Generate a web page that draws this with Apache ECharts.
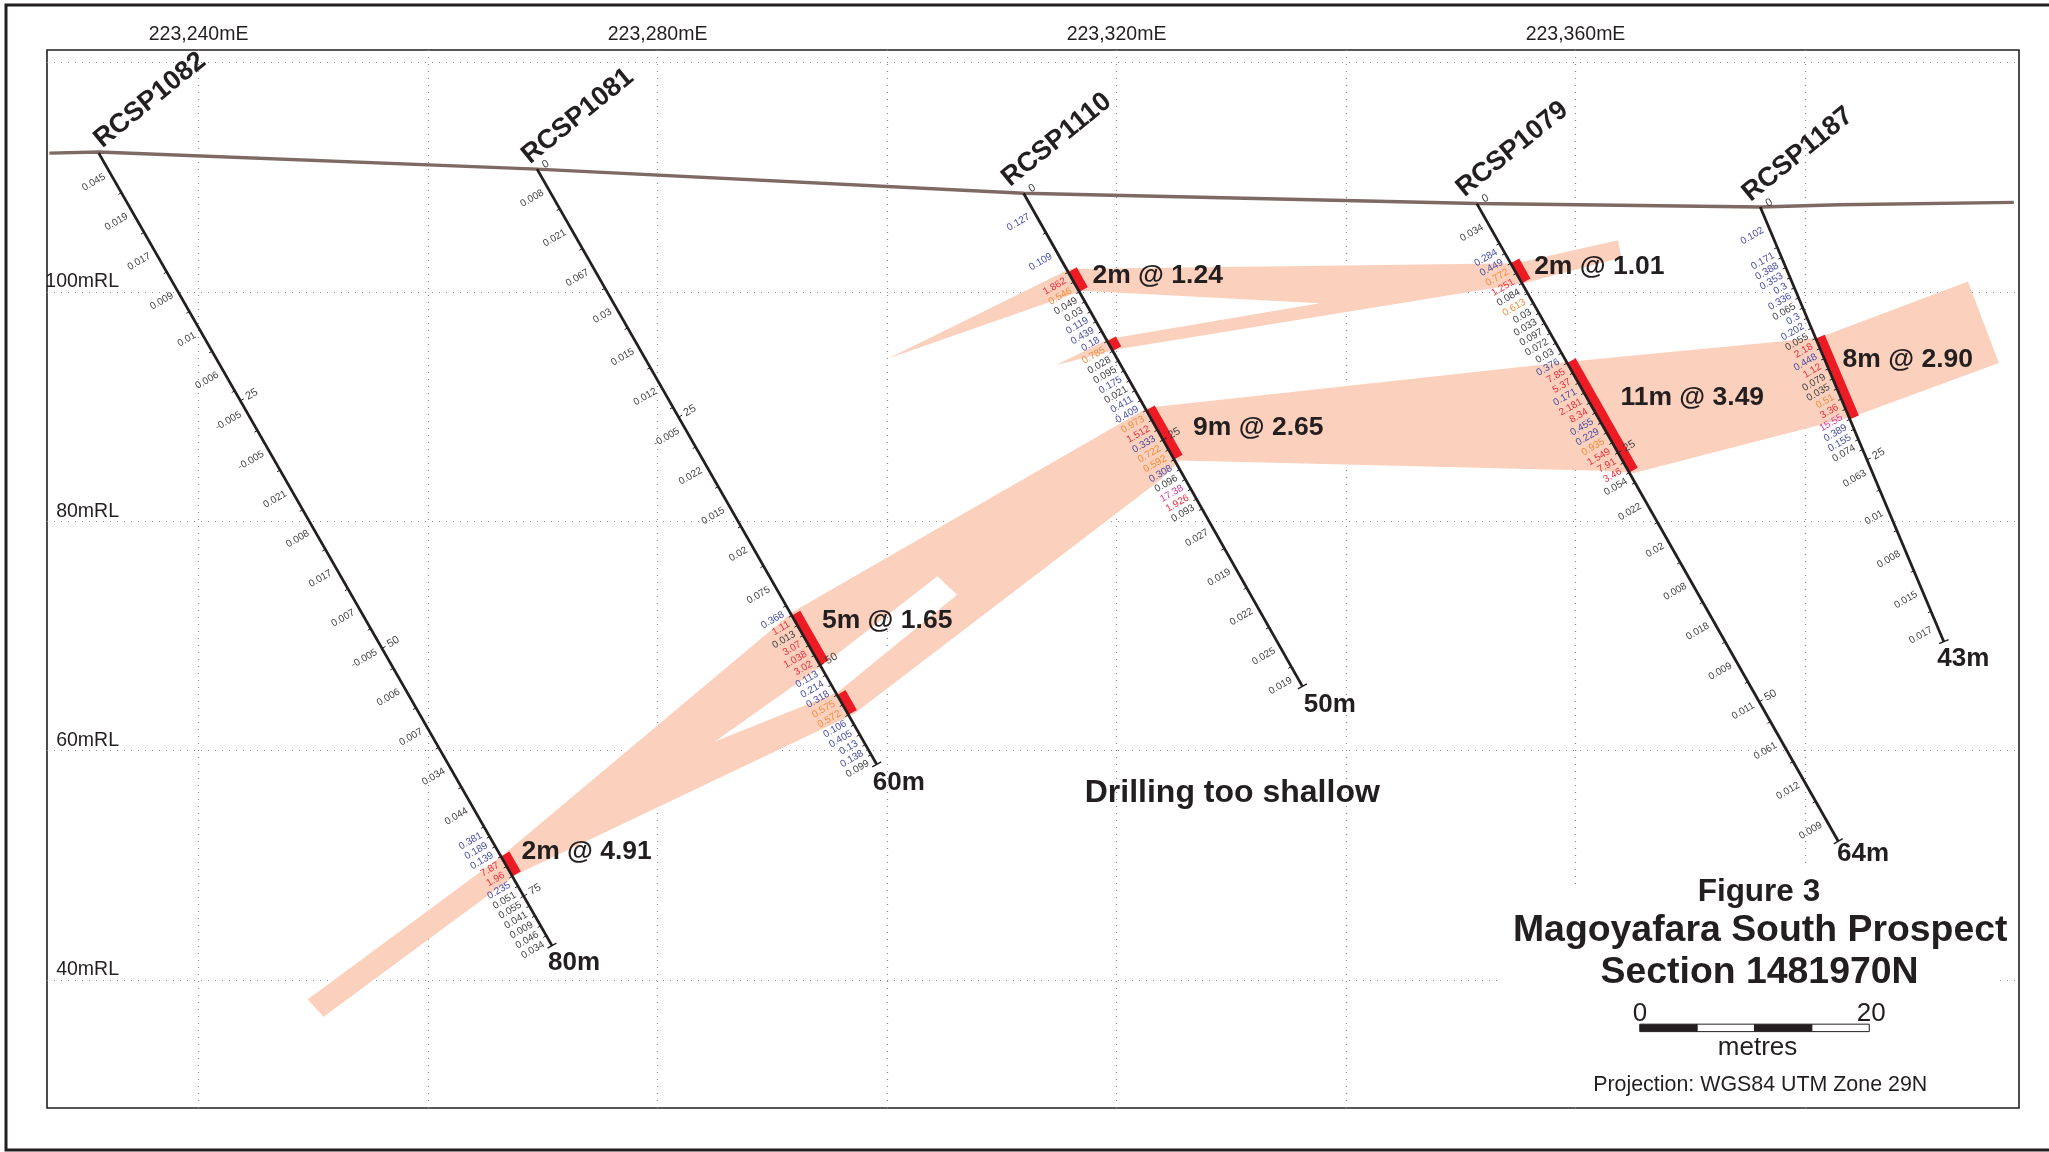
<!DOCTYPE html>
<html>
<head>
<meta charset="utf-8">
<style>html,body{margin:0;padding:0;background:#fff}#c{width:2049px;height:1152px}</style>
<script src="https://cdn.jsdelivr.net/npm/echarts@6/dist/echarts.min.js"></script>
</head>
<body>
<div id="c"></div>
<script>
// ---------- data (world coordinates: easting, RL; depths in metres) ----------
const GRID_E = [223240,223260,223280,223300,223320,223340,223360,223380];
const GRID_RL = [40,60,80,100,120];
const LABEL_E = [223240,223280,223320,223360];
const LABEL_RL = [40,60,80,100];

const HOLE_NAMES = ['RCSP1082','RCSP1081','RCSP1110','RCSP1079','RCSP1187'];
const HOLE_DEPTHS = [80,60,50,64,43];
const COLLAR_E = [223231.3,223269.5,223311.9,223351.4,223376.1];
const COLLAR_RL = [112.1,110.7,108.6,107.7,107.4];
const TOE_E = [223270.8,223299.1,223336.2,223382.9,223392.1];
const TOE_RL = [43.0,58.8,65.6,52.1,69.5];

const SURFACE_E = [223227.0,223231.3,223269.5,223311.9,223351.4,223376.1,223383.0,223398.2];
const SURFACE_RL = [112.1,112.2,110.7,108.6,107.7,107.4,107.6,107.8];

const BREAKS_1082 = [0,4,8,12,16,20,24,28,32,36,40,44,48,52,56,60,64,68,69,70,71,72,73,74,75,76,77,78,79,80];
const ASSAY_1082 = [0.045,0.019,0.017,0.009,0.01,0.006,-0.005,-0.005,0.021,0.008,0.017,0.007,-0.005,0.006,0.007,0.034,0.044,0.381,0.189,0.139,7.87,1.96,0.235,0.051,0.055,0.041,0.009,0.046,0.034];
const BREAKS_1081 = [0,4,8,12,16,20,24,28,32,36,40,44,45,46,47,48,49,50,51,52,53,54,55,56,57,58,59,60];
const ASSAY_1081 = [0.008,0.021,0.067,0.03,0.015,0.012,-0.005,0.022,0.015,0.02,0.075,0.368,1.11,0.013,3.07,1.038,3.02,0.113,0.214,0.318,0.575,0.572,0.106,0.405,0.13,0.138,0.099];
const BREAKS_1110 = [0,4,8,9,10,11,12,13,14,15,16,17,18,19,20,21,22,23,24,25,26,27,28,29,30,31,32,36,40,44,48,50];
const ASSAY_1110 = [0.127,0.109,1.862,0.546,0.049,0.03,0.119,0.439,0.18,0.785,0.028,0.095,0.175,0.021,0.411,0.409,0.973,1.512,0.333,0.722,0.592,0.308,0.096,17.38,1.926,0.093,0.027,0.019,0.022,0.025,0.019];
const BREAKS_1079 = [0,4,5,6,7,8,9,10,11,12,13,14,15,16,17,18,19,20,21,22,23,24,25,26,27,28,32,36,40,44,48,52,56,60,64];
const ASSAY_1079 = [0.034,0.284,0.449,0.772,1.251,0.084,0.613,0.03,0.033,0.097,0.072,0.03,0.376,7.85,5.37,0.171,2.181,8.34,0.455,0.229,0.935,1.549,7.91,3.46,0.054,0.022,0.02,0.008,0.018,0.009,0.011,0.061,0.012,0.009];
const BREAKS_1187 = [0,4,5,6,7,8,9,10,11,12,13,14,15,16,17,18,19,20,21,22,23,24,28,32,36,40,43];
const ASSAY_1187 = [0.102,0.171,0.388,0.353,0.3,0.336,0.065,0.3,0.202,0.055,2.18,0.448,1.12,0.079,0.035,0.51,3.36,15.55,0.389,0.155,0.074,0.063,0.01,0.008,0.015,0.017];

const DEPTH_MARKS_1082 = [25,50,75];
const DEPTH_MARKS_1081 = [0,25,50];
const DEPTH_MARKS_1110 = [0,25];
const DEPTH_MARKS_1079 = [0,25,50];
const DEPTH_MARKS_1187 = [0,25];

// mineralised intercepts drawn on the holes: hole index, from, to
const RED_HOLE = [0,1,1,2,2,2,3,3,4];
const RED_FROM = [71,45,53,8,15,22,6,16,13];
const RED_TO   = [73,50,55,10,16,27,8,27,21];

// mineralised envelopes, [easting, RL]
const ZONE_LOWER = [[223249.5,38.3],[223266.4,50.8],[223291.8,72.1],[223322.7,89.9],[223325.5,85.3],[223323.8,83.6],[223297.1,63.2],
  [223295.7,65.1],[223306.1,73.6],[223304.4,75.2],[223294.6,67.6],[223285.0,60.8],[223295.7,65.1],[223297.1,63.2],
  [223267.7,49.2],[223250.9,36.8]];
const ZONE_MAIN = [[223322.7,89.9],[223359.4,93.9],[223381.2,96.0],[223394.2,100.9],[223396.9,93.8],[223384.4,89.2],[223365.1,84.2],[223362.2,84.4],[223325.5,85.3]];
const ZONE_UPPER = [[223300.1,94.2],[223315.9,102.0],[223354.8,102.5],[223363.7,104.5],[223364.0,103.0],[223355.7,100.8],[223320.1,95.0],[223314.7,93.6],[223319.3,95.9],[223337.7,99.0],[223317.0,100.1]];

const INTERCEPT_TEXT = ['2m @ 4.91','5m @ 1.65','2m @ 1.24','9m @ 2.65','2m @ 1.01','11m @ 3.49','8m @ 2.90'];

// ---------- layout and style ----------
const S = 2049/1568;
const INTERCEPT_POS = [[399,652],[629,475],[836,211],[913,327],[1174,204],[1240,304],[1410,275]];
const NAME_OFFSET = [[-1,-8],[-9,-8],[-14,-9],[-13,-9],[-11,-8]];
const END_OFFSET = [[-3,13.5],[-3,14],[1,14],[-1,10],[-5,13]];
const E_MIN = 223226.79, E_MAX = 223398.65, RL_MIN = 28.84, RL_MAX = 121.09;
const INK = '#231f20', PEACH = '#fbd1bd', RED = '#ed1c24';
const FONT = '"Liberation Sans", Arial, sans-serif';

const BREAKS = [BREAKS_1082,BREAKS_1081,BREAKS_1110,BREAKS_1079,BREAKS_1187];
const ASSAYS = [ASSAY_1082,ASSAY_1081,ASSAY_1110,ASSAY_1079,ASSAY_1187];
const MARKS = [DEPTH_MARKS_1082,DEPTH_MARKS_1081,DEPTH_MARKS_1110,DEPTH_MARKS_1079,DEPTH_MARKS_1187];
const ZONES = [ZONE_LOWER,ZONE_MAIN,ZONE_UPPER];

function gradeColor(v){
  if(v>=10) return '#d9389f';
  if(v>=1) return '#ee2f3e';
  if(v>=0.5) return '#f58b3d';
  if(v>=0.1) return '#474ca4';
  return '#3f3f41';
}
function frame(i){
  const dx=TOE_E[i]-COLLAR_E[i], dy=TOE_RL[i]-COLLAR_RL[i], len=Math.hypot(dx,dy), d=HOLE_DEPTHS[i];
  const ux=dx/len, uy=dy/len;
  return {
    at:(depth,side)=>[COLLAR_E[i]+dx*depth/d+(-uy)*(side||0), COLLAR_RL[i]+dy*depth/d+ux*(side||0)]
  };
}
const ROT = Math.PI/6;
function hole(params,api){
  const i=params.dataIndex, f=frame(i), ch=[];
  const br=BREAKS[i], as=ASSAYS[i];
  br.forEach(d=>{
    if(d===0||d===HOLE_DEPTHS[i]) return;
    const a=api.coord(f.at(d,0)), b=api.coord(f.at(d,-0.3));
    ch.push({type:'line',shape:{x1:a[0],y1:a[1],x2:b[0],y2:b[1]},style:{stroke:INK,lineWidth:1}});
  });
  as.forEach((v,k)=>{
    const p=api.coord(f.at((br[k]+br[k+1])/2,-0.55));
    ch.push({type:'text',x:p[0],y:p[1],rotation:ROT,style:{text:String(v),fill:gradeColor(v),font:'10px '+FONT,align:'right',verticalAlign:'middle'}});
  });
  MARKS[i].forEach(d=>{
    if(d>0){
      const a=api.coord(f.at(d,0)), b=api.coord(f.at(d,0.35));
      ch.push({type:'line',shape:{x1:a[0],y1:a[1],x2:b[0],y2:b[1]},style:{stroke:INK,lineWidth:1}});
    }
    const p=api.coord(f.at(d,0.6));
    ch.push({type:'text',x:p[0],y:p[1],rotation:ROT,style:{text:String(d),fill:'#3f3f41',font:'11px '+FONT,align:'left',verticalAlign:'middle'}});
  });
  const t1=api.coord(f.at(HOLE_DEPTHS[i],-0.45)), t2=api.coord(f.at(HOLE_DEPTHS[i],0.45));
  ch.push({type:'line',shape:{x1:t1[0],y1:t1[1],x2:t2[0],y2:t2[1]},style:{stroke:INK,lineWidth:1.4}});
  const e=api.coord(f.at(HOLE_DEPTHS[i],0)), q=END_OFFSET[i];
  ch.push({type:'text',x:e[0]+q[0]*S,y:e[1]+q[1]*S,style:{text:HOLE_DEPTHS[i]+'m',fill:INK,font:'bold 26px '+FONT,align:'left',verticalAlign:'middle'}});
  const c=api.coord(f.at(0,0)), o=NAME_OFFSET[i];
  ch.push({type:'text',x:c[0]+o[0]*S,y:c[1]+o[1]*S,rotation:39*Math.PI/180,style:{text:HOLE_NAMES[i],fill:INK,font:'bold 27px '+FONT,align:'left',verticalAlign:'middle'}});
  return {type:'group',children:ch};
}
function zone(params,api){
  const pts=ZONES[params.dataIndex].map(p=>api.coord(p));
  return {type:'polygon',shape:{points:pts},style:{fill:PEACH}};
}
function redBox(params,api){
  const k=params.dataIndex, f=frame(RED_HOLE[k]);
  const pts=[f.at(RED_FROM[k],0),f.at(RED_FROM[k],0.85),f.at(RED_TO[k],0.85),f.at(RED_TO[k],0)].map(p=>api.coord(p));
  return {type:'polygon',shape:{points:pts},style:{fill:RED}};
}
function scaleBar(params,api){
  const x0=223365.6, y0=35.5, y1=36.15;
  const seg=[0,5,10,15,20], ch=[];
  for(let i=0;i<4;i++){
    const a=api.coord([x0+seg[i],y1]), b=api.coord([x0+seg[i+1],y0]);
    ch.push({type:'rect',shape:{x:a[0],y:a[1],width:b[0]-a[0],height:b[1]-a[1]},style:{fill:i%2?'#fff':INK,stroke:INK,lineWidth:1}});
  }
  return {type:'group',children:ch};
}
function txt(t,x,y,font,align){
  return {type:'text',x:x*S,y:y*S,z:100,silent:true,style:{text:t,fill:INK,font:font,align:align||'center',verticalAlign:'middle'}};
}

const chart = echarts.init(document.getElementById('c'),null,{renderer:'canvas',width:2049,height:1152});
const dotted = {show:true,lineStyle:{color:'#8a8a8a',width:1.2,type:[1,6]}};
chart.setOption({
  animation:false,
  backgroundColor:'#fff',
  grid:{left:47,right:30,top:50,bottom:44,show:true,borderColor:INK,borderWidth:1.6,backgroundColor:'transparent'},
  xAxis:{type:'value',position:'top',min:E_MIN,max:E_MAX,
    axisLine:{show:false},
    axisTick:{show:false,customValues:GRID_E},
    axisLabel:{customValues:LABEL_E,color:INK,fontFamily:FONT,fontSize:19.5,margin:5,
      formatter:v=>String(Math.round(v)).replace(/^(\d{3})(\d{3})$/,'$1,$2')+'mE'},
    splitLine:dotted},
  yAxis:{type:'value',min:RL_MIN,max:RL_MAX,
    axisLine:{show:false},
    axisTick:{show:false,customValues:GRID_RL},
    axisLabel:{customValues:LABEL_RL,inside:true,margin:72,align:'right',verticalAlign:'bottom',color:INK,fontFamily:FONT,fontSize:19.5,
      formatter:v=>Math.round(v)+'mRL'},
    splitLine:dotted},
  graphic:{elements:[
    {type:'rect',z:1,silent:true,shape:{x:1498,y:885,width:499,height:220},style:{fill:'#fff'}},
    {type:'rect',z:1,silent:true,shape:{x:1700,y:868,width:297,height:20},style:{fill:'#fff'}},
    {type:'rect',z:100,silent:true,shape:{x:6,y:5,width:2060,height:1145},style:{fill:'none',stroke:INK,lineWidth:3}},
    txt('Drilling too shallow',943,607,'bold 32px '+FONT),
    txt('Figure 3',1346,683,'bold 31.5px '+FONT),
    txt('Magoyafara South Prospect',1347,712.5,'bold 37.4px '+FONT),
    txt('Section 1481970N',1346.5,744.5,'bold 37.4px '+FONT),
    txt('0',1255,775.5,'26px '+FONT),
    txt('20',1432,775.5,'26px '+FONT),
    txt('metres',1345,802,'26px '+FONT),
    txt('Projection: WGS84 UTM Zone 29N',1347,830,'21.4px '+FONT)
  ].concat(INTERCEPT_TEXT.map((t,i)=>txt(t,INTERCEPT_POS[i][0],INTERCEPT_POS[i][1],'bold 26.5px '+FONT,'left')))},
  series:[
    {type:'custom',z:2,silent:true,renderItem:zone,data:ZONES.map((z,i)=>[i])},
    {type:'line',z:3,silent:true,symbol:'none',lineStyle:{color:'#7e6a63',width:3.4},data:SURFACE_E.map((e,i)=>[e,SURFACE_RL[i]])},
    {type:'custom',z:3,silent:true,renderItem:redBox,data:RED_HOLE.map((h,i)=>[i])},
    ...HOLE_NAMES.map((n,i)=>({type:'line',name:n,z:4,silent:true,symbol:'none',lineStyle:{color:INK,width:2.8},data:[[COLLAR_E[i],COLLAR_RL[i]],[TOE_E[i],TOE_RL[i]]]})),
    {type:'custom',z:5,silent:true,renderItem:hole,data:HOLE_NAMES.map((n,i)=>[i])},
    {type:'custom',z:6,silent:true,renderItem:scaleBar,data:[[0]]}
  ]
});
</script>
</body>
</html>
